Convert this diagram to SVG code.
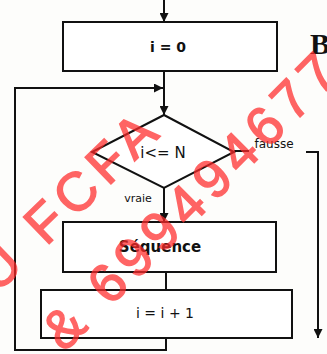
<svg xmlns="http://www.w3.org/2000/svg" width="327" height="354" viewBox="0 0 327 354">
<style>
.ln{fill:none;stroke:#111;stroke-width:2}
.bx{fill:#fff;stroke:#111;stroke-width:2}
.t{font-family:"DejaVu Sans","Liberation Sans",sans-serif;fill:#111;text-anchor:middle}
.wm{font-family:"Liberation Sans",Arial,sans-serif;font-size:54px;letter-spacing:7px;fill:#ff2a2a;stroke:#ff2a2a;stroke-width:1.5;opacity:0.72}
</style>
<defs>
<marker id="ah" viewBox="0 0 10 10" refX="10" refY="5" markerWidth="4.5" markerHeight="4.5" orient="auto" markerUnits="strokeWidth">
<path d="M0,0 L10,5 L0,10 Z" fill="#111"/>
</marker>
</defs>
<rect width="327" height="354" fill="#fdfdfb"/>
<g id="connectors">
<line class="ln" x1="164" y1="0" x2="164" y2="22" marker-end="url(#ah)"/>
<line class="ln" x1="164" y1="71" x2="164" y2="115" marker-end="url(#ah)"/>
<polyline class="ln" points="166,338 166,350 15,350 15,88 163,88" marker-end="url(#ah)"/>
<line class="ln" x1="164" y1="188" x2="164" y2="222" marker-end="url(#ah)"/>
<line class="ln" x1="166" y1="272" x2="166" y2="290"/>
<line class="ln" x1="234" y1="151" x2="249" y2="151"/>
<polyline class="ln" points="306,152 318,152 318,338" marker-end="url(#ah)"/>
<text class="t" x="274" y="148" font-size="12">fausse</text>
<text class="t" x="138" y="202" font-size="11">vraie</text>
</g>
<g id="init">
<rect class="bx" x="63" y="22" width="214" height="49"/>
<text class="t" x="168" y="52" font-size="14" font-weight="bold">i = 0</text>
</g>
<g id="cond">
<polygon class="bx" points="164,115 234,152 164,188 92,152"/>
<text class="t" x="163" y="158" font-size="15">i&lt;= N</text>
</g>
<g id="seq">
<rect class="bx" x="63" y="222" width="213" height="50"/>
<text class="t" x="160" y="252" font-size="15" font-weight="bold">Séquence</text>
</g>
<g id="incr">
<rect class="bx" x="41" y="290" width="251" height="48"/>
<text class="t" x="165" y="318" font-size="14">i = i + 1</text>
</g>
<text x="310" y="54" font-family="Liberation Serif,serif" font-weight="bold" font-size="30" fill="#111">B</text>
<text class="wm" transform="translate(-3,294) rotate(-44)">U FCFA</text>
<text class="wm" transform="translate(64,353) rotate(-45)">&amp; 699494677</text>
</svg>
